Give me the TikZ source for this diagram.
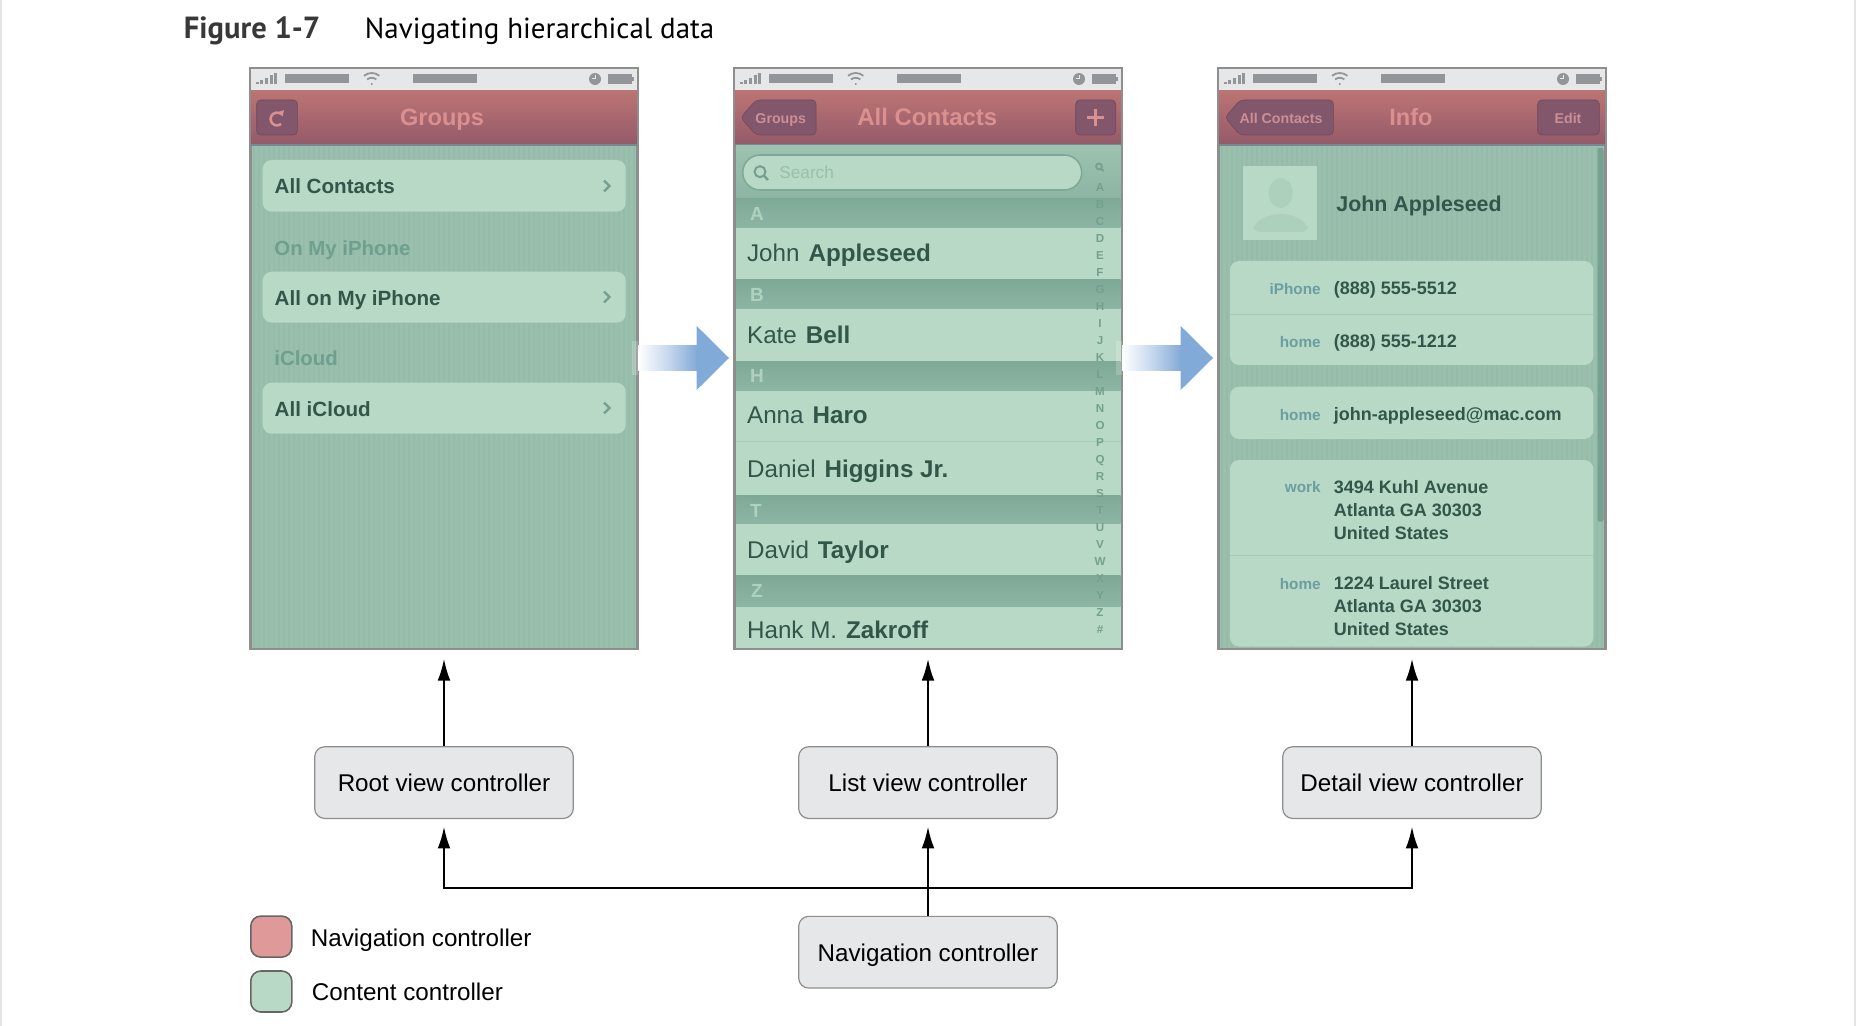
\documentclass[tikz,border=0pt]{standalone}
\usepackage{fontspec}
\setmainfont{Liberation Sans}
\newfontfamily\titlefont{PT Sans}
\usetikzlibrary{arrows.meta}

\definecolor{statusfill}{HTML}{E6E7E8}
\definecolor{statusgray}{HTML}{939598}
\definecolor{framegray}{HTML}{8E8E8E}
\definecolor{navtop}{HTML}{BC7474}
\definecolor{navbottom}{HTML}{945A69}
\definecolor{navbutton}{HTML}{82566B}
\definecolor{navtext}{HTML}{DB9090}
\definecolor{buttontext}{HTML}{CB8F96}
\definecolor{contentbg}{HTML}{9ABFAD}
\definecolor{stripegreen}{HTML}{95BBA9}
\definecolor{rowgreen}{HTML}{B7D9C5}
\definecolor{sectiontop}{HTML}{7FA997}
\definecolor{sectionbottom}{HTML}{8DB5A3}
\definecolor{darkgreen}{HTML}{32574A}
\definecolor{paleheading}{HTML}{6F9F8E}
\definecolor{labelblue}{HTML}{6C9DA0}
\definecolor{indexgreen}{HTML}{759F8E}
\definecolor{scrollgreen}{HTML}{76A08F}
\definecolor{boxgray}{HTML}{E6E7E8}
\definecolor{arrowblue}{HTML}{82AAD8}
\definecolor{legendred}{HTML}{E09999}

\tikzset{
  phoneframe/.style={draw=framegray, line width=.8pt, fill=contentbg, minimum width=193pt, minimum height=290pt, inner sep=0pt},
  grouprow/.style={fill=rowgreen, rounded corners=4.5pt},
  navicon/.style={fill=navbutton, draw=navbutton!85!black, line width=.3pt, rounded corners=2pt},
  navtitle/.style={text=navtext, font=\fontsize{11.8}{14}\selectfont\bfseries, inner sep=0pt, anchor=mid, yshift=-1.2pt},
  navsmall/.style={text=buttontext, font=\fontsize{7.1}{9}\selectfont\bfseries, inner sep=0pt, anchor=mid, yshift=-.3pt},
  rowtitle/.style={text=darkgreen, font=\fontsize{10.3}{12}\selectfont\bfseries, inner sep=0pt, anchor=mid west, yshift=-1.2pt},
  rowheading/.style={text=paleheading, font=\fontsize{10.2}{12}\selectfont\bfseries, inner sep=0pt, anchor=mid west, yshift=-1pt},
  contactname/.style={text=darkgreen, font=\fontsize{12.1}{14}\selectfont, inner sep=0pt, anchor=mid west, yshift=-1.2pt},
  sectionletter/.style={text=rowgreen!85!sectiontop, font=\fontsize{9.5}{11}\selectfont\bfseries, inner sep=0pt, anchor=mid, yshift=-.9pt},
  indexletter/.style={text=indexgreen, font=\fontsize{5.8}{7}\selectfont\bfseries, inner sep=0pt, anchor=mid},
  fieldlabel/.style={text=labelblue, font=\fontsize{7.65}{9}\selectfont\bfseries, inner sep=0pt, anchor=mid east, yshift=-.3pt},
  fieldvalue/.style={text=darkgreen, font=\fontsize{9}{11.5}\selectfont\bfseries, inner sep=0pt, anchor=mid west, yshift=-.3pt},
  fieldlines/.style={text=darkgreen, font=\fontsize{9}{11.5}\selectfont\bfseries, inner sep=0pt, anchor=north west, align=left},
  controllerbox/.style={draw=framegray, line width=.6pt, fill=boxgray, rounded corners=5pt, minimum width=129.3pt, minimum height=35.85pt, text height=9pt, text depth=0pt, font=\fontsize{12.1}{15}\selectfont},
  legendbox/.style={draw=black!60, line width=.8pt, rounded corners=5pt, minimum width=20.5pt, minimum height=20.5pt, inner sep=0pt},
  legendtext/.style={font=\fontsize{12.1}{15}\selectfont, inner sep=0pt, anchor=mid west, yshift=-2.3pt},
  flowarrow/.style={line width=1.15pt, -{Latex[length=11pt,width=6.4pt]}},
  glowarrow/.style={fill=arrowblue}
}

\begin{document}
\begin{tikzpicture}[x=.5pt, y=-.5pt]
  \useasboundingbox (0,0) rectangle (1856,1026);
  % page edges
  \fill[black!10] (0,0) rectangle (2,1026);
  \fill[black!10] (1854,0) rectangle (1856,1026);

  % title
  \node[inner sep=0pt, anchor=base west, text=black!78, font=\titlefont\fontsize{15.3}{18}\selectfont\bfseries] (figlabel) at (183.5,39) {Figure 1-7};
  \node[inner sep=0pt, anchor=base west, font=\titlefont\fontsize{14.5}{18}\selectfont] (figtitle) at (364.5,39) {Navigating hierarchical data};

  % screens
  \node[phoneframe] (rootscreen) at (444,358.6) {};
  \node[phoneframe] (listscreen) at (928,358.6) {};
  \node[phoneframe] (detailscreen) at (1412,358.6) {};

  % pinstripes
  \foreach \dx in {0,968} {
    \foreach \sx in {254,259,...,634} {
      \draw[stripegreen, line width=.8pt] (\dx+\sx,146) -- (\dx+\sx,648);
    }
  }

  % status bars and navigation bars
  \foreach \dx in {0,484,968} {
    \begin{scope}[shift={(\dx,0)}]
      \fill[statusfill] (251,69) rectangle (637,90.5);
      \foreach \i/\h in {0/2.5,1/4,2/6,3/9,4/11} {
        \fill[statusgray] (255.5+4.7*\i,84.5-\h) rectangle (258.5+4.7*\i,84.5);
      }
      \fill[statusgray] (285,74.3) rectangle (349,82.7);
      \fill[statusgray] (412.7,74.3) rectangle (476.7,82.7);
      \fill[statusgray] (371.7,84) circle (1.2);
      \draw[statusgray, line width=.9pt] (371.7,85) ++(50:3.6pt) arc[start angle=50, end angle=130, radius=3.6pt];
      \draw[statusgray, line width=.9pt] (371.7,85) ++(50:6pt) arc[start angle=50, end angle=130, radius=6pt];
      \fill[statusgray] (595,79) circle (6);
      \draw[statusfill, line width=.5pt] (595,79) -- (595,75) (595,79) -- (591.5,79);
      \fill[statusgray] (608,74.5) rectangle (631.5,84);
      \fill[statusgray] (631.5,77.5) rectangle (633.5,81);
      \shade[top color=navtop, bottom color=navbottom] (251,91) rectangle (637,144.5);
      \draw[black!45!cyan!40!gray, line width=.7pt] (251,145) -- (637,145);
    \end{scope}
  }

  % root screen
  \draw[navicon] (256.7,100) rectangle (297.3,135);
  \draw[navtext, line width=1.3pt, -{Latex[length=3pt,width=3.5pt]}] (277,119) ++(310:3.2pt) arc[start angle=310, end angle=20, radius=3.2pt];
  \node[navtitle] (rootname) at (442,118) {Groups};
  \fill[grouprow] (262.7,160) rectangle (625.7,211.7);
  \fill[grouprow] (262.7,271.7) rectangle (625.7,322.7);
  \fill[grouprow] (262.7,382.7) rectangle (625.7,433.7);
  \node[rowtitle] (allcontacts) at (274.3,186) {All Contacts};
  \node[rowheading] (onphone) at (274,248) {On My iPhone};
  \node[rowtitle] (allphone) at (274.3,297.7) {All on My iPhone};
  \node[rowheading] (icloud) at (274,358.7) {iCloud};
  \node[rowtitle] (allcloud) at (274.3,408.4) {All iCloud};
  \foreach \cy in {186,297,408} {
    \draw[indexgreen, line width=1.2pt] (604,\cy-5.5) -- (609.5,\cy) -- (604,\cy+5.5);
  }

  % list screen
  \draw[navicon] (740.7,117.5) -- (756,100) -- (816,100) -- (816,135) -- (756,135) -- cycle;
  \node[navsmall] (backgroups) at (780.7,118) {Groups};
  \node[navtitle, font=\fontsize{12}{14}\selectfont\bfseries] (listname) at (927.3,118) {All Contacts};
  \draw[navicon] (1075.7,100) rectangle (1115.7,135);
  \draw[navtext, line width=1.5pt] (1087,118) -- (1104,118);
  \draw[navtext, line width=1.5pt] (1095.5,109.5) -- (1095.5,126.5);
  \shade[top color=contentbg!90!rowgreen, bottom color=sectionbottom] (736,146) rectangle (1120.5,198.3);
  \draw[grouprow, draw=sectiontop, line width=.8pt, rounded corners=8.7pt] (742.7,155) rectangle (1081.7,190);
  \draw[indexgreen, line width=1pt] (760,171.7) circle (5.5);
  \draw[indexgreen, line width=1.2pt] (764,175.7) -- (768,180);
  \node[inner sep=0pt, anchor=mid west, text=contentbg, font=\fontsize{8.6}{10}\selectfont, yshift=-.3pt] (searchtext) at (779,173) {Search};
  \fill[rowgreen] (736,198) rectangle (1120.5,648);
  \foreach \ya/\yb in {198.3/227.7,280/308.3,361.7/390,495/523.3,575.7/606} {
    \shade[top color=sectiontop, bottom color=sectionbottom] (736,\ya) rectangle (1120.5,\yb);
  }
  \node[sectionletter] (seca) at (757,213) {A};
  \node[sectionletter] (secb) at (757,294) {B};
  \node[sectionletter] (sech) at (757,375) {H};
  \node[sectionletter] (sect) at (756,510) {T};
  \node[sectionletter] (secz) at (757,590) {Z};
  \draw[contentbg!50!rowgreen, line width=.5pt] (736,441.7) -- (1120.5,441.7);
  \node[contactname] (john) at (746.7,254) {John\hspace{4.5pt}\textbf{Appleseed}};
  \node[contactname] (kate) at (746.7,335.7) {Kate\hspace{4.5pt}\textbf{Bell}};
  \node[contactname] (anna) at (746.7,416) {Anna\hspace{4.5pt}\textbf{Haro}};
  \node[contactname] (daniel) at (746.7,470) {Daniel\hspace{4.5pt}\textbf{Higgins Jr.}};
  \node[contactname] (david) at (746.7,550.7) {David\hspace{4.5pt}\textbf{Taylor}};
  \node[contactname] (hank) at (746.7,630.7) {Hank M.\hspace{4.5pt}\textbf{Zakroff}};
  % index strip
  \draw[indexgreen, line width=.9pt] (1099,166.5) circle (3);
  \draw[indexgreen, line width=1pt] (1101,168.5) -- (1103.5,171);
  \foreach \ltr [count=\n from 0] in {A,...,Z} {
    \node[indexletter] at (1100,{186+17*\n}) {\ltr};
  }
  \node[indexletter] (indexhash) at (1100,628) {\#};

  % detail screen
  \draw[navicon] (1225,117.5) -- (1240,100) -- (1333.3,100) -- (1333.3,135) -- (1240,135) -- cycle;
  \node[navsmall] (backcontacts) at (1281,118) {All Contacts};
  \node[navtitle] (detailname) at (1411,118) {Info};
  \draw[navicon] (1537.7,100) rectangle (1599.3,135);
  \node[navsmall] (editlabel) at (1568,118) {Edit};
  \fill[rowgreen] (1243.3,166) rectangle (1317.3,240);
  \fill[contentbg!35!rowgreen] (1280.7,193) ellipse (12 and 15);
  \fill[contentbg!35!rowgreen, rounded corners=4pt] (1252,232) -- (1255,222) -- (1272,214) -- (1290,214) -- (1306,222) -- (1310,232) -- cycle;
  \node[inner sep=0pt, anchor=mid west, text=darkgreen, font=\fontsize{10.7}{13}\selectfont\bfseries, yshift=-1.2pt] (fullname) at (1336,204) {John Appleseed};
  \fill[grouprow] (1230,261) rectangle (1593.3,365);
  \fill[grouprow] (1230,386.7) rectangle (1593.3,439);
  \fill[grouprow] (1230,460) rectangle (1593.3,646.5);
  \draw[contentbg!60!rowgreen, line width=.5pt] (1230,315) -- (1593.3,315);
  \draw[contentbg!60!rowgreen, line width=.5pt] (1230,555) -- (1593.3,555);
  \fill[scrollgreen, rounded corners=1pt] (1597.5,148) rectangle (1603.5,521.7);
  \node[fieldlabel] (iphonelabel) at (1321,289) {iPhone};
  \node[fieldvalue] (iphonenum) at (1333.5,289) {(888) 555-5512};
  \node[fieldlabel] (homelabel) at (1321,341.7) {home};
  \node[fieldvalue] (homenum) at (1333.5,341.7) {(888) 555-1212};
  \node[fieldlabel] (maillabel) at (1321,414.3) {home};
  \node[fieldvalue] (mailaddr) at (1333.5,414.3) {john-appleseed@mac.com};
  \node[fieldlabel] (worklabel) at (1321,486.7) {work};
  \node[fieldlines] (workaddr) at (1333.5,480) {3494 Kuhl Avenue\\Atlanta GA 30303\\United States};
  \node[fieldlabel] (addrlabel) at (1321,583.3) {home};
  \node[fieldlines] (homeaddr) at (1333.5,576.5) {1224 Laurel Street\\Atlanta GA 30303\\United States};

  % frames on top
  \draw[framegray, line width=.8pt] (rootscreen.south west) rectangle (rootscreen.north east);
  \draw[framegray, line width=.8pt] (listscreen.south west) rectangle (listscreen.north east);
  \draw[framegray, line width=.8pt] (detailscreen.south west) rectangle (detailscreen.north east);

  % blue arrows between screens
  \foreach \dx in {0,484} {
    \begin{scope}[shift={(\dx,0)}]
      \fill[white, opacity=.2] (632,341) rectangle (637.5,375);
      \shade[left color=white, right color=arrowblue, middle color=arrowblue!45] (638,346) rectangle (697,370.7);
      \fill[glowarrow] (696.7,326) -- (729,358) -- (696.7,390) -- cycle;
    \end{scope}
  }

  % controllers
  \node[controllerbox] (rootvc) at (444,782.6) {Root view controller};
  \node[controllerbox] (listvc) at (928,782.6) {List view controller};
  \node[controllerbox] (detailvc) at (1412,782.6) {Detail view controller};
  \node[controllerbox] (navvc) at (928,952.2) {Navigation controller};
  \coordinate (busleft) at (444,887.7);
  \coordinate (busright) at (1412,887.7);

  % connectors
  \draw[flowarrow, shorten >=4.6pt] (rootvc) -- (rootscreen.south);
  \draw[flowarrow, shorten >=4.6pt] (listvc) -- (listscreen.south);
  \draw[flowarrow, shorten >=4.6pt] (detailvc) -- (detailscreen.south);
  \draw[flowarrow, shorten >=3.7pt] (navvc) -- (listvc);
  \draw[flowarrow, shorten >=3.7pt] (busleft) -- (rootvc);
  \draw[flowarrow, shorten >=3.7pt] (busright) -- (detailvc);
  \draw[line width=1.15pt, line cap=rect] (busleft) -- (busright);

  % legend
  \node[legendbox, fill=legendred] (navswatch) at (271.3,936.6) {};
  \node[legendbox, fill=rowgreen] (contentswatch) at (271.3,991.5) {};
  \node[legendtext] (navtext) at (310.5,936.7) {Navigation controller};
  \node[legendtext] (contenttext) at (311.5,990.7) {Content controller};
\end{tikzpicture}
\end{document}
